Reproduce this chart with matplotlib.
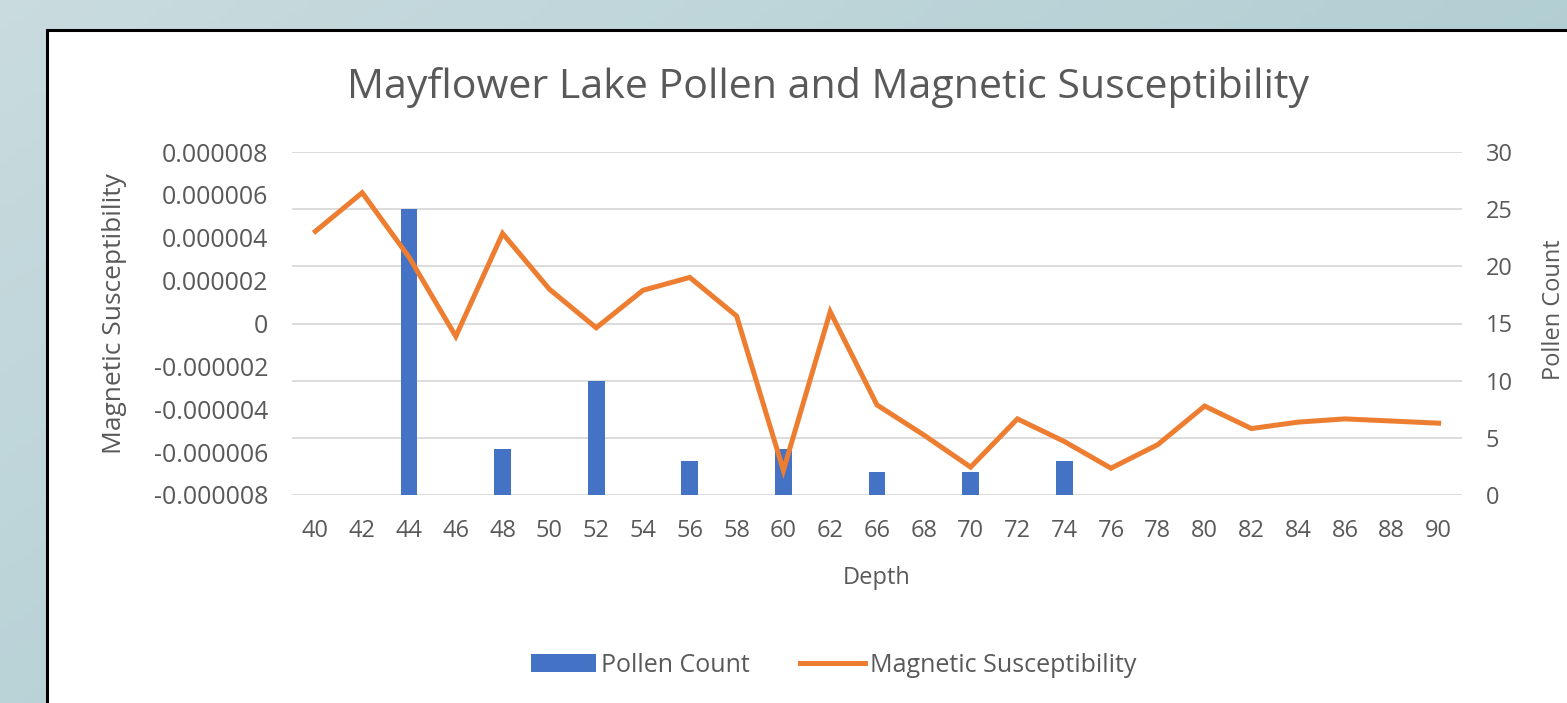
import numpy as np
import matplotlib.pyplot as plt
from matplotlib.patches import Rectangle
from matplotlib.lines import Line2D

plt.rcParams['font.family'] = ['Open Sans', 'DejaVu Sans']

# Data
depths = ['40', '42', '44', '46', '48', '50', '52', '54', '56', '58', '60', '62', '66',
          '68', '70', '72', '74', '76', '78', '80', '82', '84', '86', '88', '90']
pollen = [0, 0, 25, 0, 4, 0, 10, 0, 3, 0, 4, 0, 2, 0, 2, 0, 3, 0, 0, 0, 0, 0, 0, 0, 0]
mag_sus_e6 = [4.3, 6.1, 3.1, -0.6, 4.2, 1.6, -0.2, 1.55, 2.15, 0.35, -6.85, 0.55, -3.8,
              -5.2, -6.7, -4.45, -5.5, -6.75, -5.65, -3.85, -4.9, -4.6, -4.45, -4.55, -4.65]
mag_sus = [v * 1e-6 for v in mag_sus_e6]
left_ticks = [-8e-6, -6e-6, -4e-6, -2e-6, 0, 2e-6, 4e-6, 6e-6, 8e-6]
left_labels = ['-0.000008', '-0.000006', '-0.000004', '-0.000002', '0',
               '0.000002', '0.000004', '0.000006', '0.000008']
right_ticks = [0, 5, 10, 15, 20, 25, 30]

W, H = 1567, 703
fig = plt.figure(figsize=(W / 100, H / 100), dpi=100)

# teal gradient background
bg = fig.add_axes([0, 0, 1, 1], zorder=-10)
gx, gy = np.meshgrid(np.linspace(0, 1, 200), np.linspace(0, 1, 100))
t = (gx * 0.6 + (1 - gy) * 0.4)
c1 = np.array([0.79, 0.86, 0.875])  # lighter, bottom-left
c2 = np.array([0.64, 0.78, 0.80])   # darker, top-right
img = c1[None, None, :] * (1 - t[..., None]) + c2[None, None, :] * t[..., None]
bg.imshow(img, extent=[0, 1, 0, 1], aspect='auto', origin='lower')
bg.set_xlim(0, 1)
bg.set_ylim(0, 1)
bg.axis('off')

# white chart box with black border
bg.add_patch(Rectangle((47 / W, -0.02), 1.05, 1 - 30 / H + 0.02,
                       facecolor='white', edgecolor='black', linewidth=2.2, zorder=2))

text_col = '#595959'
ax = fig.add_axes([292 / W, 1 - 495 / H, (1462 - 292) / W, (495 - 152) / H])
ax.patch.set_alpha(0)
ax2 = ax.twinx()

x = np.arange(len(depths))
ax2.bar(x, pollen, width=0.36, color='#4472C4', zorder=2)
ax.plot(x, mag_sus, color='#ED7D31', linewidth=3.6, solid_joinstyle='miter', zorder=3)
ax.set_zorder(ax2.get_zorder() + 1)

ax.set_ylim(-8e-6, 8e-6)
ax.set_yticks(left_ticks)
ax.set_yticklabels(left_labels)
ax2.set_ylim(0, 30)
ax2.set_yticks(right_ticks)
ax.set_xlim(-0.5, len(depths) - 0.5)
ax.set_xticks(x)
ax.set_xticklabels(depths)

for yv in right_ticks:
    ax2.axhline(yv, color='#D9D9D9', linewidth=1.3, zorder=0)

for a in (ax, ax2):
    for s in a.spines.values():
        s.set_visible(False)
    a.tick_params(length=0, colors=text_col, labelsize=17)
ax.tick_params(axis='y', labelsize=18, pad=17)
ax.tick_params(axis='x', pad=17)
ax2.tick_params(axis='y', pad=17)

ax.set_ylabel('Magnetic Susceptibility', color=text_col, fontsize=19)
ax.yaxis.set_label_coords(-165 / 1170, 0.53)
ax2.set_ylabel('Pollen Count', color=text_col, fontsize=17)
ax2.yaxis.set_label_coords(1 + 80 / 1170, 0.54)
ax.set_xlabel('Depth', color=text_col, fontsize=17, labelpad=17)

fig.text(828 / W, 1 - 88 / H, 'Mayflower Lake Pollen and Magnetic Susceptibility',
         ha='center', va='center', fontsize=29.6, color=text_col)

handles = [Rectangle((0, 0), 1, 1, facecolor='#4472C4'),
           Line2D([0], [0], color='#ED7D31', linewidth=3.6)]
fig.legend(handles, ['Pollen Count', 'Magnetic Susceptibility'], loc='center',
           bbox_to_anchor=(834 / W, 1 - 665 / H), ncol=2, frameon=False,
           fontsize=18, labelcolor=text_col, handlelength=2.6, handletextpad=0.2,
           columnspacing=2.0)

fig.savefig('out.png', dpi=100)
